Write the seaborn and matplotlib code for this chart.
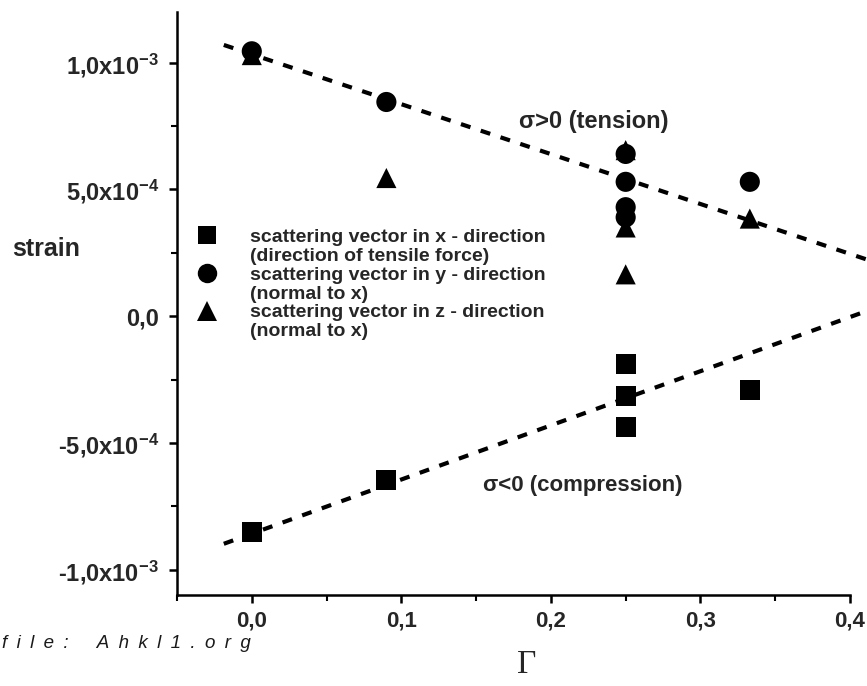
import numpy as np
import pandas as pd
import matplotlib
matplotlib.use("Agg")
import matplotlib.pyplot as plt
import seaborn as sns
from matplotlib.lines import Line2D
from matplotlib.ticker import FixedLocator, FixedFormatter, MultipleLocator

# ---------------- data ----------------
sq_x = [0.0, 0.09, 0.25, 0.25, 0.25, 0.333]
sq_y = [-8.5e-4, -6.45e-4, -1.9e-4, -3.15e-4, -4.37e-4, -2.9e-4]
circ_x = [0.0, 0.09, 0.25, 0.25, 0.25, 0.25, 0.333]
circ_y = [1.045e-3, 8.45e-4, 6.4e-4, 5.3e-4, 4.3e-4, 3.9e-4, 5.3e-4]
tri_x = [0.0, 0.09, 0.25, 0.25, 0.25, 0.333]
tri_y = [1.03e-3, 5.45e-4, 6.55e-4, 3.5e-4, 1.65e-4, 3.85e-4]

fit_up_x = [-0.0187, 0.411]
fit_up_y = [1.07e-3, 2.24e-4]
fit_lo_x = [-0.0187, 0.411]
fit_lo_y = [-8.98e-4, 2.0e-5]

ytick_vals = [-1.0e-3, -5.0e-4, 0.0, 5.0e-4, 1.0e-3]
ytick_labels = ["-1,0x10$^{-3}$", "-5,0x10$^{-4}$", "0,0", "5,0x10$^{-4}$", "1,0x10$^{-3}$"]
xtick_vals = [0.0, 0.1, 0.2, 0.3, 0.4]
xtick_labels = ["0,0", "0,1", "0,2", "0,3", "0,4"]

legend_lines = [
    "scattering vector in x - direction", "(direction of tensile force)",
    "scattering vector in y - direction", "(normal to x)",
    "scattering vector in z - direction", "(normal to x)",
]

file_label = "file: Ahkl1.org"

# ---------------- style ----------------
sns.set_theme(style="ticks")
plt.rcParams["font.family"] = ["Liberation Sans", "DejaVu Sans"]
plt.rcParams["mathtext.fontset"] = "custom"
plt.rcParams["mathtext.rm"] = "Liberation Sans:bold"
plt.rcParams["mathtext.it"] = "Liberation Sans:bold"
plt.rcParams["mathtext.bf"] = "Liberation Sans:bold"
plt.rcParams["mathtext.default"] = "rm"

W, H = 867, 686
fig = plt.figure(figsize=(W / 100, H / 100), dpi=100)
ax = fig.add_axes([177 / W, 1 - 595 / H, (850 - 177) / W, (595 - 12) / H])

df = pd.DataFrame({
    "Gamma": sq_x + circ_x + tri_x,
    "strain": sq_y + circ_y + tri_y,
    "dir": ["x"] * len(sq_x) + ["y"] * len(circ_x) + ["z"] * len(tri_x),
})

sns.lineplot(x=fit_up_x, y=fit_up_y, color="black", lw=3.0,
             linestyle=(0, (2.4, 2.6)), ax=ax, clip_on=False)
sns.lineplot(x=fit_lo_x, y=fit_lo_y, color="black", lw=3.0,
             linestyle=(0, (2.4, 2.6)), ax=ax, clip_on=False)

sns.scatterplot(data=df, x="Gamma", y="strain", style="dir",
                markers={"x": "s", "y": "o", "z": "^"},
                color="black", s=210, linewidth=0, ax=ax, legend=False,
                zorder=3, clip_on=False)

ax.set_xlim(-0.05, 0.4)
ax.set_ylim(-1.1e-3, 1.2e-3)
ax.xaxis.set_major_locator(FixedLocator(xtick_vals))
ax.xaxis.set_major_formatter(FixedFormatter(xtick_labels))
ax.xaxis.set_minor_locator(MultipleLocator(0.05))
ax.yaxis.set_major_locator(FixedLocator(ytick_vals))
ax.yaxis.set_major_formatter(FixedFormatter(ytick_labels))
ax.yaxis.set_minor_locator(MultipleLocator(2.5e-4))

for s in ["top", "right"]:
    ax.spines[s].set_visible(False)
for s in ["left", "bottom"]:
    ax.spines[s].set_linewidth(1.8)
    ax.spines[s].set_color("black")

ax.tick_params(axis="both", which="major", direction="out", length=6,
               width=1.8, color="black", labelsize=16)
ax.tick_params(axis="y", which="major", pad=7, labelsize=17)
ax.tick_params(axis="x", which="major", pad=5)
ax.tick_params(axis="both", which="minor", direction="out", length=4,
               width=1.5, color="black")
for lab in ax.get_xticklabels() + ax.get_yticklabels():
    lab.set_fontweight("bold")
ax.set_xlabel("")
ax.set_ylabel("")

# legend (6 rows; continuation rows have blank handles)
handles = [
    Line2D([], [], marker="s", ls="", color="black", ms=13, mew=0),
    Line2D([], [], marker="", ls=""),
    Line2D([], [], marker="o", ls="", color="black", ms=14, mew=0),
    Line2D([], [], marker="", ls=""),
    Line2D([], [], marker="^", ls="", color="black", ms=15, mew=0),
    Line2D([], [], marker="", ls=""),
]
leg = ax.legend(handles, legend_lines, loc="upper left",
                bbox_to_anchor=(193.5 / W, 1 - 228 / H), bbox_transform=fig.transFigure,
                frameon=False, borderpad=0, borderaxespad=0,
                handlelength=1.4, handletextpad=1.52, labelspacing=0.07,
                prop={"size": 14, "weight": "bold"})

# annotations
ax.text(0.2287, 7.68e-4, "σ>0 (tension)", fontsize=17, fontweight="bold",
        ha="center", va="center")
ax.text(0.2213, -6.69e-4, "σ<0 (compression)", fontsize=16, fontweight="bold",
        ha="center", va="center")

fig.text(12 / W, 1 - 249 / H, "strain", fontsize=18, fontweight="bold",
         ha="left", va="center")
fig.text(527 / W, 1 - 665 / H, "Γ", fontsize=24, family=["Liberation Serif", "DejaVu Serif"],
         ha="center", va="center")
spaced = "\u2002".join(file_label).replace("\u2002 \u2002", "\u2002\u2002\u2002")
fig.text(2 / W, 1 - 643 / H, spaced, fontsize=13.5,
         style="italic", ha="left", va="center", color="#1a1a1a")

fig.savefig("out.png", dpi=100)
